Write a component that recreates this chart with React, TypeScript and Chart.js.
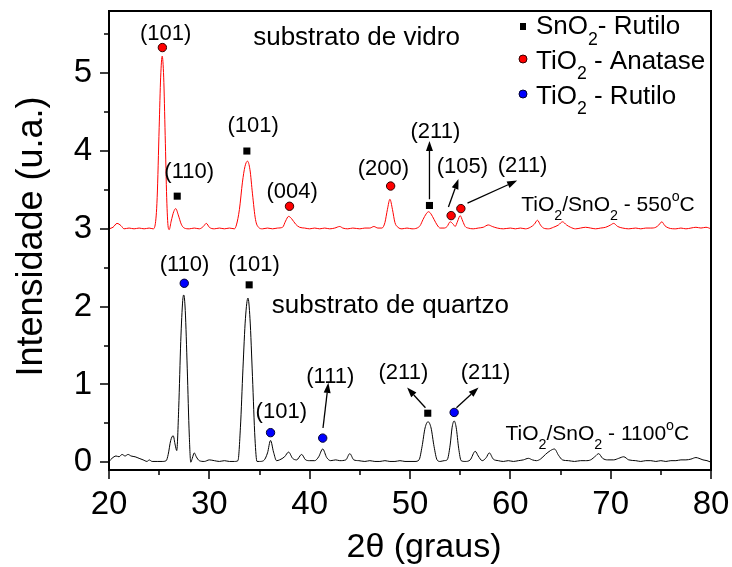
import React, { useEffect, useRef } from 'react';
import { Chart, registerables } from 'chart.js';

Chart.register(...registerables);

const FONT = "'Liberation Sans', Arial, sans-serif";

// Axis ranges and ticks
const X_MIN = 20;
const X_MAX = 80;
const Y_MIN = -0.1;
const Y_MAX = 5.8;
const X_MAJOR = [20, 30, 40, 50, 60, 70, 80];
const X_MINOR = [25, 35, 45, 55, 65, 75];
const Y_MAJOR = [0, 1, 2, 3, 4, 5];
const Y_MINOR = [0.5, 1.5, 2.5, 3.5, 4.5, 5.5];

// TiO2/SnO2 - 550°C (glass substrate), red curve
const GLASS_X = [
  20.0, 20.4, 20.8, 21.2, 21.5, 22.0, 22.5, 23.0, 23.5, 24.0, 24.4, 24.6, 24.8, 25.0, 25.15, 25.3, 25.45, 25.6, 25.75, 25.9,
  26.0, 26.2, 26.45, 26.65, 26.9, 27.2, 27.5, 28.0, 28.5, 29.0, 29.4, 29.7, 30.0, 30.5, 31.0, 31.5, 32.0, 32.5, 32.7, 33.0,
  33.3, 33.55, 33.8, 34.05, 34.3, 34.6, 34.9, 35.3, 35.8, 36.3, 36.8, 37.3, 37.6, 37.9, 38.2, 38.6, 39.0, 39.5, 40.0, 40.5,
  41.0, 41.5, 42.0, 42.5, 43.0, 43.3, 43.8, 44.3, 45.0, 45.5, 46.0, 46.4, 46.8, 47.2, 47.5, 47.75, 48.0, 48.25, 48.5, 48.8,
  49.2, 49.7, 50.2, 50.7, 51.0, 51.3, 51.6, 51.85, 52.1, 52.4, 52.7, 53.0, 53.4, 53.7, 54.0, 54.3, 54.5, 54.75, 55.0, 55.25,
  55.5, 55.8, 56.3, 56.8, 57.3, 57.8, 58.2, 58.7, 59.3, 60.0, 60.5, 61.0, 61.5, 62.0, 62.4, 62.7, 63.0, 63.3, 63.8, 64.3,
  64.8, 65.2, 65.6, 66.0, 66.5, 67.0, 67.5, 68.0, 68.5, 69.0, 69.5, 70.0, 70.3, 70.7, 71.2, 71.8, 72.5, 73.0, 73.5, 74.0,
  74.5, 74.8, 75.1, 75.4, 75.8, 76.5, 77.0, 77.5, 78.0, 78.5, 79.0, 79.5, 80.0,
];
const GLASS_Y = [
  3.0, 3.02, 3.07, 3.04, 3.0, 3.01, 3.0, 3.01, 3.0, 3.01, 3.0, 3.05, 3.4, 4.3, 4.95, 5.22, 4.95, 4.2, 3.4, 3.02,
  2.99, 3.1, 3.22, 3.26, 3.18, 3.06, 3.01, 3.0, 3.01, 3.0, 3.03, 3.07, 3.02, 3.0, 3.01, 3.0, 3.01, 3.0, 3.05, 3.25,
  3.6, 3.8, 3.87, 3.76, 3.45, 3.12, 3.02, 3.0, 3.01, 3.0, 3.01, 3.02, 3.1, 3.16, 3.13, 3.06, 3.02, 3.01, 3.0, 3.01,
  3.0, 3.01, 3.0, 3.01, 3.03, 3.01, 3.0, 3.01, 3.0, 3.01, 3.01, 3.03, 3.01, 3.01, 3.08, 3.25, 3.38, 3.25, 3.08, 3.02,
  3.0, 3.01, 3.0, 3.01, 3.04, 3.12, 3.19, 3.22, 3.19, 3.12, 3.05, 3.01, 3.01, 3.03, 3.09, 3.06, 3.03, 3.1, 3.17, 3.1,
  3.03, 3.01, 3.0, 3.01, 3.02, 3.05, 3.03, 3.01, 3.0, 3.01, 3.0, 3.01, 3.0, 3.02, 3.06, 3.11, 3.05, 3.01, 3.0, 3.02,
  3.05, 3.09, 3.05, 3.02, 3.0, 3.01, 3.02, 3.01, 3.0, 3.01, 3.02, 3.05, 3.07, 3.03, 3.01, 3.0, 3.01, 3.0, 3.01, 3.01,
  3.02, 3.05, 3.09, 3.04, 3.01, 3.0, 3.01, 3.0, 3.01, 3.02, 3.01, 3.02, 3.0,
];

// TiO2/SnO2 - 1100°C (quartz substrate), black curve
const QUARTZ_X = [
  20.0, 20.3, 20.7, 21.0, 21.3, 21.6, 21.9, 22.2, 22.6, 23.0, 23.4, 23.8, 24.0, 24.3, 24.8, 25.3, 25.7, 25.9, 26.15, 26.4,
  26.6, 26.75, 26.95, 27.15, 27.35, 27.45, 27.6, 27.8, 28.0, 28.15, 28.3, 28.5, 28.7, 29.0, 29.5, 30.0, 30.5, 31.0, 31.5, 32.0,
  32.5, 32.85, 33.1, 33.35, 33.6, 33.85, 34.05, 34.3, 34.55, 34.75, 35.0, 35.4, 35.8, 36.1, 36.4, 36.7, 37.0, 37.5, 37.9, 38.3,
  38.7, 39.2, 39.6, 40.0, 40.5, 40.9, 41.3, 41.7, 42.1, 42.6, 43.0, 43.6, 44.0, 44.4, 44.9, 45.5, 46.0, 46.5, 47.0, 47.5,
  48.0, 48.5, 49.0, 49.5, 50.0, 50.5, 50.9, 51.2, 51.5, 51.8, 52.1, 52.4, 52.7, 53.0, 53.4, 53.7, 54.0, 54.2, 54.4, 54.6,
  54.85, 55.1, 55.5, 56.0, 56.5, 56.8, 57.2, 57.6, 57.9, 58.3, 58.8, 59.3, 59.8, 60.3, 60.8, 61.3, 61.8, 62.2, 62.6, 63.0,
  63.5, 64.0, 64.4, 64.8, 65.2, 65.8, 66.4, 67.0, 67.5, 68.0, 68.5, 68.8, 69.2, 69.7, 70.3, 70.8, 71.3, 71.8, 72.5, 73.0,
  73.5, 74.0, 74.5, 75.0, 75.5, 76.0, 76.5, 77.0, 77.5, 78.0, 78.5, 78.8, 79.2, 79.6, 80.0,
];
const QUARTZ_Y = [
  0.01, 0.05, 0.08, 0.07, 0.1, 0.08, 0.1, 0.08, 0.07, 0.05, 0.03, 0.01, 0.03, 0.01, 0.01, 0.01, 0.02, 0.1, 0.28, 0.34,
  0.22, 0.15, 0.7, 1.55, 2.08, 2.15, 1.95, 1.2, 0.35, 0.0, 0.05, 0.12, 0.07, 0.02, 0.01, 0.03, 0.02, 0.01, 0.02, 0.01,
  0.01, 0.02, 0.45, 1.2, 1.85, 2.11, 1.85, 1.1, 0.3, 0.01, 0.01, 0.02, 0.12, 0.28, 0.13, 0.02, 0.03, 0.07, 0.13, 0.05,
  0.03, 0.1, 0.03, 0.02, 0.02, 0.07, 0.17, 0.06, 0.02, 0.03, 0.02, 0.03, 0.11, 0.03, 0.02, 0.01, 0.02, 0.01, 0.01, 0.02,
  0.01, 0.01, 0.02, 0.01, 0.01, 0.01, 0.03, 0.2, 0.44, 0.52, 0.44, 0.2, 0.03, 0.01, 0.02, 0.03, 0.22, 0.45, 0.53, 0.45,
  0.18, 0.02, 0.01, 0.03, 0.14, 0.08, 0.02, 0.06, 0.12, 0.04, 0.02, 0.01, 0.02, 0.01, 0.02, 0.03, 0.05, 0.03, 0.02, 0.04,
  0.1, 0.15, 0.17, 0.09, 0.03, 0.02, 0.01, 0.02, 0.02, 0.03, 0.08, 0.11, 0.05, 0.03, 0.03, 0.05, 0.07, 0.03, 0.02, 0.01,
  0.02, 0.02, 0.01, 0.02, 0.01, 0.02, 0.02, 0.03, 0.03, 0.04, 0.06, 0.05, 0.03, 0.02, 0.0,
];

// Phase markers
const SNO2_X = [26.8, 33.74, 51.94, 33.97, 51.77];
const SNO2_Y = [3.42, 4.0, 3.3, 2.28, 0.63];
const ANATASE_X = [25.32, 37.99, 48.07, 54.1, 55.07];
const ANATASE_Y = [5.33, 3.29, 3.55, 3.17, 3.26];
const RUTILE_X = [27.5, 36.1, 41.3, 54.4];
const RUTILE_Y = [2.3, 0.38, 0.31, 0.64];

// Miller-index labels (data coordinates of label centre)
const PEAK_TEXT = ['(101)', '(110)', '(101)', '(004)', '(200)', '(211)', '(105)', '(211)', '(110)', '(101)', '(101)', '(111)', '(211)', '(211)'];
const PEAK_TX = [25.65, 27.99, 34.37, 38.26, 47.35, 52.53, 55.23, 61.22, 27.53, 34.47, 37.17, 42.06, 49.34, 57.53];
const PEAK_TY = [5.51, 3.73, 4.32, 3.47, 3.77, 4.24, 3.79, 3.81, 2.54, 2.54, 0.65, 1.1, 1.15, 1.15];

// Arrows: start x, start y, end x, end y (data coordinates)
const ARROW_X1 = [51.94, 53.83, 55.73, 41.33, 51.54, 54.63];
const ARROW_Y1 = [3.38, 3.28, 3.33, 0.44, 0.7, 0.7];
const ARROW_X2 = [51.94, 54.83, 60.68, 41.86, 49.71, 56.83];
const ARROW_Y2 = [4.13, 3.64, 3.62, 1.02, 0.96, 0.96];

type Part = [string, number]; // 0 normal, 1 subscript, 2 superscript

function drawRich(ctx: CanvasRenderingContext2D, parts: Part[], x: number, y: number, size: number) {
  let cx = x;
  ctx.textAlign = 'left';
  ctx.textBaseline = 'alphabetic';
  for (const [t, mode] of parts) {
    const s = mode ? size * 0.68 : size;
    ctx.font = `${s}px ${FONT}`;
    const dy = mode === 1 ? size * 0.42 : mode === 2 ? -size * 0.45 : 0;
    ctx.fillText(t, cx, y + dy);
    cx += ctx.measureText(t).width;
  }
}

function arrow(ctx: CanvasRenderingContext2D, x1: number, y1: number, x2: number, y2: number) {
  const ang = Math.atan2(y2 - y1, x2 - x1);
  const hl = 10;
  const hw = 3.5;
  const bx = x2 - hl * Math.cos(ang);
  const by = y2 - hl * Math.sin(ang);
  ctx.beginPath();
  ctx.moveTo(x1, y1);
  ctx.lineTo(bx, by);
  ctx.stroke();
  ctx.beginPath();
  ctx.moveTo(x2, y2);
  ctx.lineTo(bx + hw * Math.sin(ang), by - hw * Math.cos(ang));
  ctx.lineTo(bx - hw * Math.sin(ang), by + hw * Math.cos(ang));
  ctx.closePath();
  ctx.fill();
}

const overlay = {
  id: 'overlay',
  afterDatasetsDraw(chart: any) {
    const { ctx, chartArea: a } = chart;
    const xs = chart.scales.x;
    const ys = chart.scales.y;
    const px = (v: number) => xs.getPixelForValue(v);
    const py = (v: number) => ys.getPixelForValue(v);
    ctx.save();
    ctx.fillStyle = '#000';
    ctx.strokeStyle = '#000';

    // frame
    ctx.lineWidth = 2;
    ctx.strokeRect(a.left, a.top, a.right - a.left, a.bottom - a.top);

    // ticks
    ctx.lineWidth = 1.5;
    ctx.beginPath();
    for (const v of X_MAJOR) { const p = Math.round(px(v)); ctx.moveTo(p, a.bottom); ctx.lineTo(p, a.bottom + 9); }
    for (const v of X_MINOR) { const p = Math.round(px(v)); ctx.moveTo(p, a.bottom); ctx.lineTo(p, a.bottom + 5); }
    for (const v of Y_MAJOR) { const p = Math.round(py(v)); ctx.moveTo(a.left, p); ctx.lineTo(a.left - 9, p); }
    for (const v of Y_MINOR) { const p = Math.round(py(v)); ctx.moveTo(a.left, p); ctx.lineTo(a.left - 5, p); }
    ctx.stroke();

    // arrows
    ctx.lineWidth = 1.3;
    for (let i = 0; i < ARROW_X1.length; i++) {
      arrow(ctx, px(ARROW_X1[i]), py(ARROW_Y1[i]), px(ARROW_X2[i]), py(ARROW_Y2[i]));
    }

    // peak labels
    ctx.font = `22px ${FONT}`;
    ctx.textAlign = 'center';
    ctx.textBaseline = 'middle';
    for (let i = 0; i < PEAK_TEXT.length; i++) {
      ctx.fillText(PEAK_TEXT[i], px(PEAK_TX[i]), py(PEAK_TY[i]));
    }

    // substrate captions
    ctx.font = `26px ${FONT}`;
    ctx.textAlign = 'left';
    ctx.textBaseline = 'alphabetic';
    ctx.fillText('substrato de vidro', px(34.37), py(5.365));
    ctx.fillText('substrato de quartzo', px(36.23), py(1.92));

    // sample captions
    drawRich(ctx, [['TiO', 0], ['2', 1], ['/SnO', 0], ['2', 1], [' - 550', 0], ['o', 2], ['C', 0]], px(61.08), py(3.23), 21);
    drawRich(ctx, [['TiO', 0], ['2', 1], ['/SnO', 0], ['2', 1], [' - 1100', 0], ['o', 2], ['C', 0]], px(59.52), py(0.287), 21);

    // legend
    const lx = a.right - 188;
    ctx.fillStyle = '#000';
    ctx.fillRect(lx - 3, 23, 6, 7);
    ctx.lineWidth = 1;
    ctx.beginPath(); ctx.arc(lx, 59, 4, 0, Math.PI * 2); ctx.fillStyle = '#ff0000'; ctx.fill(); ctx.strokeStyle = '#330000'; ctx.stroke();
    ctx.beginPath(); ctx.arc(lx, 94, 4, 0, Math.PI * 2); ctx.fillStyle = '#0000ff'; ctx.fill(); ctx.strokeStyle = '#000033'; ctx.stroke();
    ctx.fillStyle = '#000';
    drawRich(ctx, [['SnO', 0], ['2', 1], ['- Rutilo', 0]], lx + 13, 34, 26);
    drawRich(ctx, [['TiO', 0], ['2', 1], [' - Anatase', 0]], lx + 13, 68.5, 26);
    drawRich(ctx, [['TiO', 0], ['2', 1], [' - Rutilo', 0]], lx + 13, 103.5, 26);

    // axis titles
    ctx.font = `34px ${FONT}`;
    ctx.textAlign = 'center';
    ctx.textBaseline = 'alphabetic';
    ctx.fillText('2\u03b8 (graus)', 424, 557);
    ctx.save();
    ctx.translate(42, (a.top + a.bottom) / 2 - 4);
    ctx.rotate(-Math.PI / 2);
    ctx.font = `36px ${FONT}`;
    ctx.fillText('Intensidade (u.a.)', 0, 0);
    ctx.restore();

    ctx.restore();
  },
};

const zeroPad = (s: any) => {
  s.paddingTop = 0;
  s.paddingBottom = 0;
  s.paddingLeft = 0;
  s.paddingRight = 0;
};

export default function App() {
  const ref = useRef<HTMLCanvasElement | null>(null);

  useEffect(() => {
    if (!ref.current) return;
    const pts = (xs: number[], ys: number[]) => xs.map((x, i) => ({ x, y: ys[i] }));
    const chart = new Chart(ref.current, {
      type: 'scatter',
      data: {
        datasets: [
          { label: 'SnO2 - Rutilo', data: pts(SNO2_X, SNO2_Y), pointStyle: 'rect', pointRadius: 5, backgroundColor: '#000', borderColor: '#000', borderWidth: 0, order: 0 },
          { label: 'TiO2 - Anatase', data: pts(ANATASE_X, ANATASE_Y), pointStyle: 'circle', pointRadius: 4.2, backgroundColor: '#ff0000', borderColor: '#330000', borderWidth: 1, order: 0 },
          { label: 'TiO2 - Rutilo', data: pts(RUTILE_X, RUTILE_Y), pointStyle: 'circle', pointRadius: 4.2, backgroundColor: '#0000ff', borderColor: '#000033', borderWidth: 1, order: 0 },
          { label: '550', data: pts(GLASS_X, GLASS_Y), showLine: true, pointRadius: 0, borderColor: '#ff0000', borderWidth: 1, cubicInterpolationMode: 'monotone', order: 1 },
          { label: '1100', data: pts(QUARTZ_X, QUARTZ_Y), showLine: true, pointRadius: 0, borderColor: '#000', borderWidth: 1, cubicInterpolationMode: 'monotone', order: 1 },
        ] as any,
      },
      options: {
        responsive: false,
        animation: false,
        layout: { padding: { left: 0, right: 21, top: 11, bottom: 0 } },
        plugins: { legend: { display: false }, tooltip: { enabled: false } },
        scales: {
          x: {
            type: 'linear',
            position: 'bottom',
            min: X_MIN,
            max: X_MAX,
            grid: { display: false, drawTicks: false },
            border: { display: false },
            afterBuildTicks: (s: any) => { s.ticks = X_MAJOR.map((v) => ({ value: v })); },
            afterFit: (s: any) => { s.height = 97; zeroPad(s); },
            ticks: { autoSkip: false, maxRotation: 0, padding: 15, color: '#000', font: { family: FONT, size: 33 } },
          },
          y: {
            type: 'linear',
            min: Y_MIN,
            max: Y_MAX,
            grid: { display: false, drawTicks: false },
            border: { display: false },
            afterBuildTicks: (s: any) => { s.ticks = Y_MAJOR.map((v) => ({ value: v })); },
            afterFit: (s: any) => { s.width = 109; zeroPad(s); },
            ticks: { autoSkip: false, padding: 17, color: '#000', font: { family: FONT, size: 33 }, callback: (v: any) => String(v) },
          },
        },
      } as any,
      plugins: [overlay],
    });
    return () => chart.destroy();
  }, []);

  return (
    <div style={{ position: 'absolute', left: 0, top: 0, width: 732, height: 567, background: '#fff' }}>
      <canvas ref={ref} width={732} height={567} style={{ display: 'block' }} />
    </div>
  );
}
